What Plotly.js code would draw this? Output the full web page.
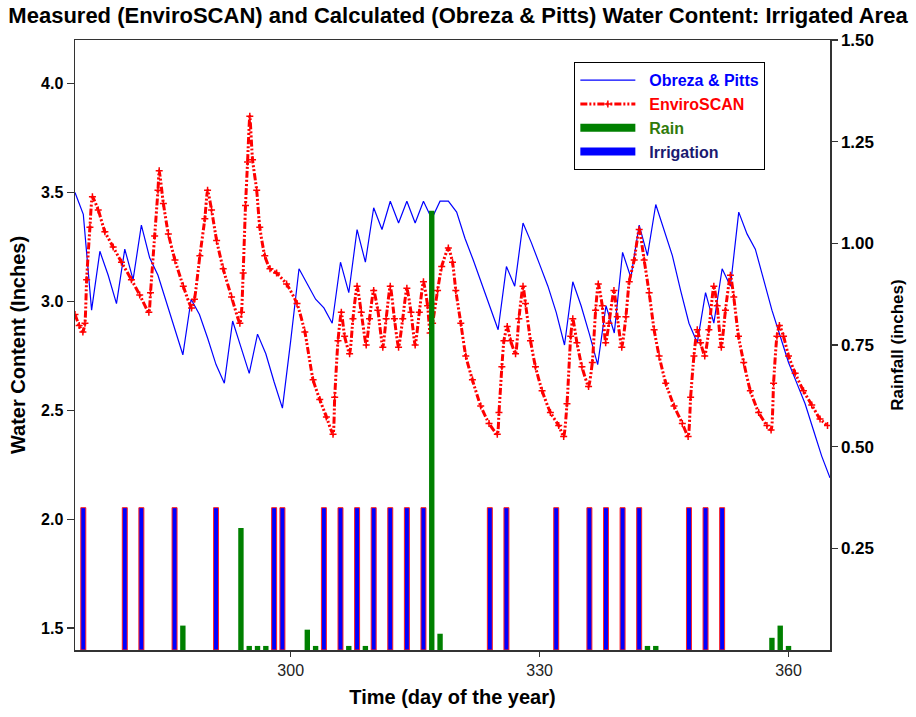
<!DOCTYPE html>
<html>
<head>
<meta charset="utf-8">
<script src="https://cdn.plot.ly/plotly-3.0.1.min.js"></script>
<style>html,body{margin:0;padding:0;background:#fff;}#chart{width:916px;height:717px;}</style>
</head>
<body>
<div id="chart"></div>
<script>
// Obreza & Pitts calculated water content (inches), daily
const obrezaDays = [274,275,276,277,278,279,280,281,282,283,284,285,286,287,288,289,290,291,292,293,294,295,296,297,298,299,300,301,302,303,304,305,306,307,308,309,310,311,312,313,314,315,316,317,318,319,320,321,322,323,324,325,326,327,328,329,330,331,332,333,334,335,336,337,338,339,340,341,342,343,344,345,346,347,348,349,350,351,352,353,354,355,356,357,358,359,360,361,362,363,364,365];
const obrezaWC = [3.50,3.40,2.96,3.23,3.12,2.99,3.24,3.10,3.35,3.20,3.12,3.00,2.88,2.755,3.01,2.94,2.83,2.71,2.625,2.91,2.79,2.67,2.85,2.76,2.63,2.51,2.82,3.15,3.08,3.01,2.97,2.90,3.18,3.04,3.33,3.18,3.43,3.33,3.46,3.36,3.46,3.36,3.46,3.38,3.46,3.46,3.41,3.29,3.19,3.08,2.97,2.87,3.16,3.07,3.36,3.27,3.17,3.07,2.95,2.80,3.09,2.98,2.85,2.71,2.98,2.855,3.225,3.11,3.35,3.21,3.445,3.33,3.21,3.05,2.90,2.81,3.04,2.90,3.15,3.07,3.41,3.31,3.24,3.10,2.96,2.84,2.72,2.625,2.53,2.41,2.29,2.19];

// EnviroSCAN measured water content (inches)
const enviroDays = [274.0,274.5,274.95,275.2,275.4,275.8,276.1,276.8,277.6,278.6,279.6,280.8,281.8,282.9,283.1,283.6,284.0,284.15,284.65,285.25,286.05,287.05,288.05,288.4,289.05,289.65,289.98,290.46,291.07,291.86,292.87,293.87,294.07,294.27,294.55,294.8,295.07,295.4,295.9,296.27,296.87,297.5,298.3,299.5,300.76,301.7,302.7,303.5,304.3,305.1,305.3,305.7,306.1,306.5,307.1,307.5,308.0,308.5,309.1,309.5,310.0,310.5,311.1,311.5,312.0,312.5,313.0,313.5,314.0,314.5,315.0,315.5,316.0,316.5,316.8,317.1,317.7,318.2,319.0,319.5,319.9,320.5,321.1,321.9,322.9,323.9,324.9,325.1,325.45,325.7,326.1,326.5,327.1,327.5,328.0,328.3,328.9,329.5,330.3,331.3,332.3,332.9,333.3,333.75,334.0,334.5,335.1,335.9,336.35,336.75,337.07,337.55,337.96,338.36,338.96,339.36,339.9,340.4,340.8,341.4,342.0,342.6,343.2,343.8,344.4,345.2,346.2,347.2,347.9,348.2,348.6,349.0,349.4,349.9,350.4,351.0,351.4,351.9,352.4,353.0,353.4,353.97,354.6,355.4,356.4,357.4,357.9,358.2,358.6,358.9,359.4,360.0,360.8,361.8,362.8,363.8,364.7];
const enviroWC = [2.94,2.89,2.86,2.90,3.10,3.34,3.48,3.42,3.32,3.25,3.18,3.10,3.03,2.95,3.04,3.30,3.51,3.60,3.45,3.31,3.19,3.07,2.97,3.01,3.21,3.38,3.51,3.42,3.28,3.15,3.02,2.90,2.95,3.13,3.44,3.64,3.85,3.65,3.51,3.34,3.21,3.15,3.13,3.08,2.99,2.86,2.64,2.55,2.47,2.39,2.56,2.82,2.95,2.84,2.76,2.92,3.07,2.95,2.80,2.92,3.05,2.96,2.79,2.92,3.07,2.92,2.79,2.92,3.06,2.95,2.80,2.95,3.09,2.98,2.855,2.90,3.05,3.16,3.245,3.18,3.05,2.90,2.75,2.64,2.52,2.44,2.39,2.49,2.70,2.82,2.885,2.82,2.76,2.92,3.07,2.99,2.82,2.70,2.59,2.49,2.43,2.38,2.53,2.84,2.92,2.81,2.70,2.61,2.72,2.96,3.08,2.98,2.81,2.90,3.05,2.93,2.79,2.93,3.09,3.19,3.33,3.19,3.04,2.87,2.75,2.625,2.52,2.44,2.38,2.56,2.75,2.87,2.81,2.75,2.87,3.07,2.98,2.79,2.96,3.12,3.02,2.84,2.72,2.59,2.49,2.43,2.41,2.625,2.84,2.89,2.84,2.75,2.67,2.59,2.525,2.46,2.43];

// Rainfall (inches)
const rainDays = [287,294,295,296,297,302,303,307,309,317,318,343,344,358,359,360];
const rainInches = [0.06,0.30,0.01,0.01,0.01,0.05,0.01,0.01,0.01,1.08,0.04,0.01,0.01,0.03,0.06,0.01];

// Irrigation events (drawn on rainfall axis)
const irrigationDays = [275,280,282,286,291,298,299,304,306,308,310,312,314,316,324,326,332,336,338,340,342,348,350,352];
const irrigationHeight = irrigationDays.map(() => 0.35);

const xTicks = [300,330,360];
const leftTicks = [1.5,2.0,2.5,3.0,3.5,4.0];
const rightTicks = [0.25,0.50,0.75,1.00,1.25,1.50];

const FONT = 'Liberation Sans, Arial, Helvetica, sans-serif';

const traces = [
  {x: obrezaDays, y: obrezaWC, type: 'scatter', mode: 'lines', yaxis: 'y',
   name: '&nbsp;&nbsp;<span style="color:#0000ff">Obreza &amp; Pitts</span>',
   line: {color: '#0000ff', width: 1.2}},
  {x: enviroDays, y: enviroWC, type: 'scatter', mode: 'lines+markers', yaxis: 'y',
   name: '&nbsp;&nbsp;<span style="color:#ff0000">EnviroSCAN</span>',
   line: {color: '#ff0000', width: 3, dash: '7px,2px,2px,2px,2px,2px', shape: 'spline', smoothing: 0.5},
   marker: {symbol: 'cross-thin', size: 5, color: '#ff0000', line: {color: '#ff0000', width: 1.5}}},
  {x: rainDays, y: rainInches, type: 'bar', yaxis: 'y2', showlegend: false,
   width: rainDays.map(() => 0.65), marker: {color: '#008000', line: {width: 0}}},
  {x: irrigationDays, y: irrigationHeight, type: 'bar', yaxis: 'y2', showlegend: false,
   width: irrigationDays.map(() => 0.6), marker: {color: '#0000ff', line: {color: '#ff2020', width: 1}}},
  {x: [null], y: [null], type: 'scatter', mode: 'lines', yaxis: 'y2',
   name: '&nbsp;&nbsp;<span style="color:#2f7a0a">Rain</span>', line: {color: '#008000', width: 8}},
  {x: [null], y: [null], type: 'scatter', mode: 'lines', yaxis: 'y2',
   name: '&nbsp;&nbsp;<span style="color:#1a1a70">Irrigation</span>', line: {color: '#0000ff', width: 8}}
];

const layout = {
  width: 916, height: 717,
  margin: {l: 75, r: 86, t: 40, b: 67},
  paper_bgcolor: '#ffffff', plot_bgcolor: '#ffffff',
  font: {family: FONT, size: 13, color: '#000'},
  showlegend: true,
  barmode: 'overlay',
  title: {text: 'Measured (EnviroSCAN) and Calculated (Obreza & Pitts) Water Content: Irrigated Area',
          font: {family: FONT, size: 22, weight: 'bold', color: '#000'},
          x: 0.5, xanchor: 'center', xref: 'container', y: 0.978, yref: 'container', yanchor: 'middle'},
  xaxis: {range: [274, 365], tickvals: xTicks, ticks: 'outside', ticklen: 5, tickwidth: 1.5, tickcolor: '#333',
          showline: true, mirror: true, linecolor: '#333', linewidth: 1.5, showgrid: false, zeroline: false,
          tickfont: {size: 16, color: '#222'},
          title: {text: 'Time (day of the year)', font: {size: 20, weight: 'bold'}, standoff: 12}},
  yaxis: {range: [1.4, 4.2], tickvals: leftTicks, tickformat: '.1f', ticks: 'outside', ticklen: 7, tickwidth: 1.5,
          tickcolor: '#333', showline: true, linecolor: '#333', linewidth: 1.5, showgrid: false, zeroline: false,
          tickfont: {size: 16, weight: 'bold'},
          title: {text: 'Water Content (Inches)', font: {size: 20, weight: 'bold'}, standoff: 10}},
  yaxis2: {range: [0, 1.5], overlaying: 'y', side: 'right', tickvals: rightTicks, tickformat: '.2f',
           ticks: 'outside', ticklen: 6, tickwidth: 1.5, tickcolor: '#333', showline: true, linecolor: '#333',
           linewidth: 1.5, showgrid: false, zeroline: false,
           tickfont: {size: 17, weight: 'bold'},
           title: {text: 'Rainfall (inches)', font: {size: 17, weight: 'bold'}, standoff: 18}},
  legend: {x: 0.661, y: 0.964, xanchor: 'left', yanchor: 'top', bgcolor: '#ffffff',
           bordercolor: '#000', borderwidth: 1.3, itemwidth: 55, tracegroupgap: 0,
           font: {size: 16, weight: 'bold'}}
};

Plotly.newPlot('chart', traces, layout, {displayModeBar: false, staticPlot: true});
</script>
</body>
</html>
